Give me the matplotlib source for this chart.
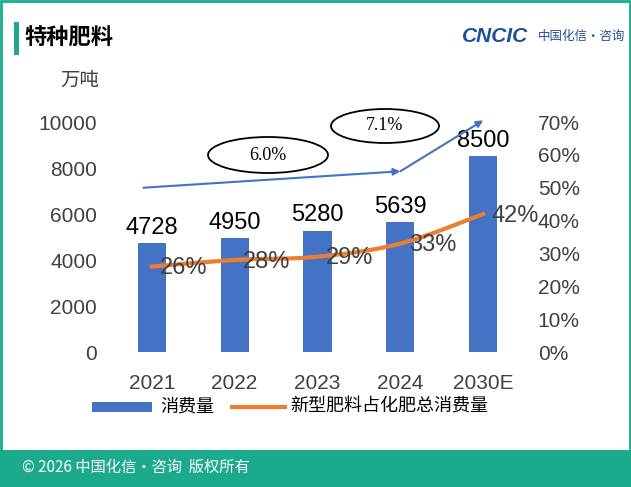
import matplotlib
matplotlib.use("Agg")
import matplotlib.pyplot as plt
from matplotlib.patches import Rectangle, Ellipse
import numpy as np

plt.rcParams['font.family'] = ['Liberation Sans', 'Noto Sans CJK SC', 'DejaVu Sans']

years = ["2021", "2022", "2023", "2024", "2030E"]
consumption = [4728, 4950, 5280, 5639, 8500]
share = [26, 28, 29, 33, 42]
share_labels = ["26%", "28%", "29%", "33%", "42%"]
cagr_labels = ["6.0%", "7.1%"]
arrow_pts = [50, 55, 70.5]

W, H = 631, 487
fig = plt.figure(figsize=(W/100, H/100), dpi=100)
teal = "#1BAA8C"
blue = "#4472C4"
orange = "#ED7D31"

def fx(px): return px / W
def fy(py): return 1 - py / H

fig.patches.append(Rectangle((0.002, 0.002), 0.996, 0.996, transform=fig.transFigure,
                             fill=False, edgecolor=teal, lw=2))
fig.patches.append(Rectangle((0, 0), 1, fy(450), transform=fig.transFigure,
                             facecolor=teal, edgecolor='none'))
fig.text(fx(22), fy(467), "© 2026 中国化信•咨询  版权所有", color='white', fontsize=11, va='center',
         family=['Noto Sans CJK SC', 'DejaVu Sans'])
fig.patches.append(Rectangle((fx(14), fy(55)), fx(5), fy(22)-fy(55), transform=fig.transFigure,
                             facecolor=teal, edgecolor='none'))
fig.text(fx(24), fy(38), "特种肥料", fontsize=16, fontweight='bold', va='center',
         family=['Noto Sans CJK SC'])
fig.text(fx(462), fy(36), "CNCIC", fontsize=15, fontweight='bold', color='#1F4E9A',
         va='center', style='italic')
fig.text(fx(538), fy(36), "中国化信·咨询", fontsize=9, color='#1F4E9A', va='center',
         family=['Noto Sans CJK SC'])

ax = fig.add_axes([fx(102), fy(352), fx(533)-fx(102), fy(122)-fy(352)])
x = np.arange(len(years))
ax.bar(x, consumption, width=0.34, color=blue)
ax.set_xlim(-0.6, 4.6)
ax.set_ylim(0, 10000)
ax.set_yticks(range(0, 10001, 2000))
ax.set_xticks(x)
ax.set_xticklabels(years)
for s in ax.spines.values():
    s.set_visible(False)
ax.tick_params(length=0, labelsize=15, colors='#404040')
ax.tick_params(axis='x', pad=16)
for xi, v in zip(x, consumption):
    ax.text(xi, v + 200, str(v), ha='center', va='bottom', fontsize=17)
fig.text(fx(60), fy(80), "万吨", fontsize=14, color='#404040', va='center',
         family=['Noto Sans CJK SC'])

ax2 = ax.twinx()
ax2.set_ylim(0, 70)
ax2.set_yticks(range(0, 71, 10))
ax2.set_yticklabels([f"{t}%" for t in range(0, 71, 10)])
for s in ax2.spines.values():
    s.set_visible(False)
ax2.tick_params(length=0, labelsize=15, colors='#404040')

def catmull(xv, yv, n=50):
    pts = list(zip(xv, yv))
    pts = [pts[0]] + pts + [pts[-1]]
    ox, oy = [], []
    for i in range(1, len(pts)-2):
        p0, p1, p2, p3 = [np.array(p, float) for p in pts[i-1:i+3]]
        t = np.linspace(0, 1, n)[:, None]
        c = 0.5*((2*p1) + (-p0+p2)*t + (2*p0-5*p1+4*p2-p3)*t**2 + (-p0+3*p1-3*p2+p3)*t**3)
        ox.extend(c[:, 0]); oy.extend(c[:, 1])
    return ox, oy
cx, cy = catmull(x, share)
ax2.plot(cx, cy, color=orange, lw=3)
for xi, v, l in zip(x, share, share_labels):
    ax2.text(xi + 0.1, v - 0.5, l, ha='left', va='center', fontsize=17, color='#404040')

ax2.annotate("", xy=(3, arrow_pts[1]), xytext=(-0.1, arrow_pts[0]), annotation_clip=False,
             arrowprops=dict(arrowstyle='-|>', color=blue, lw=1.5, shrinkA=0, shrinkB=0))
ax2.annotate("", xy=(4, arrow_pts[2]), xytext=(3, arrow_pts[1]), annotation_clip=False,
             arrowprops=dict(arrowstyle='-|>', color=blue, lw=1.5, shrinkA=0, shrinkB=0))
for (cxp, cyp, w, h), lab in zip([(268, 155, 120, 36), (385, 126, 108, 34)], cagr_labels):
    fig.patches.append(Ellipse((fx(cxp), fy(cyp)), fx(w), h/H, transform=fig.transFigure,
                               facecolor='white', edgecolor='black', lw=1.3))
    fig.text(fx(cxp), fy(cyp), lab, ha='center', va='center', fontsize=13, family='Liberation Serif')

fig.patches.append(Rectangle((fx(92), fy(412)), fx(60), 10/H, transform=fig.transFigure,
                             facecolor=blue, edgecolor='none'))
fig.text(fx(160), fy(407), "消费量", fontsize=13, va='center', family=['Noto Sans CJK SC'])
fig.lines.append(plt.Line2D([fx(232), fx(285)], [fy(407), fy(407)], transform=fig.transFigure,
                            color=orange, lw=3))
fig.text(fx(290), fy(407), "新型肥料占化肥总消费量", fontsize=13, va='center',
         family=['Noto Sans CJK SC'])

fig.savefig("out.png", dpi=100)
